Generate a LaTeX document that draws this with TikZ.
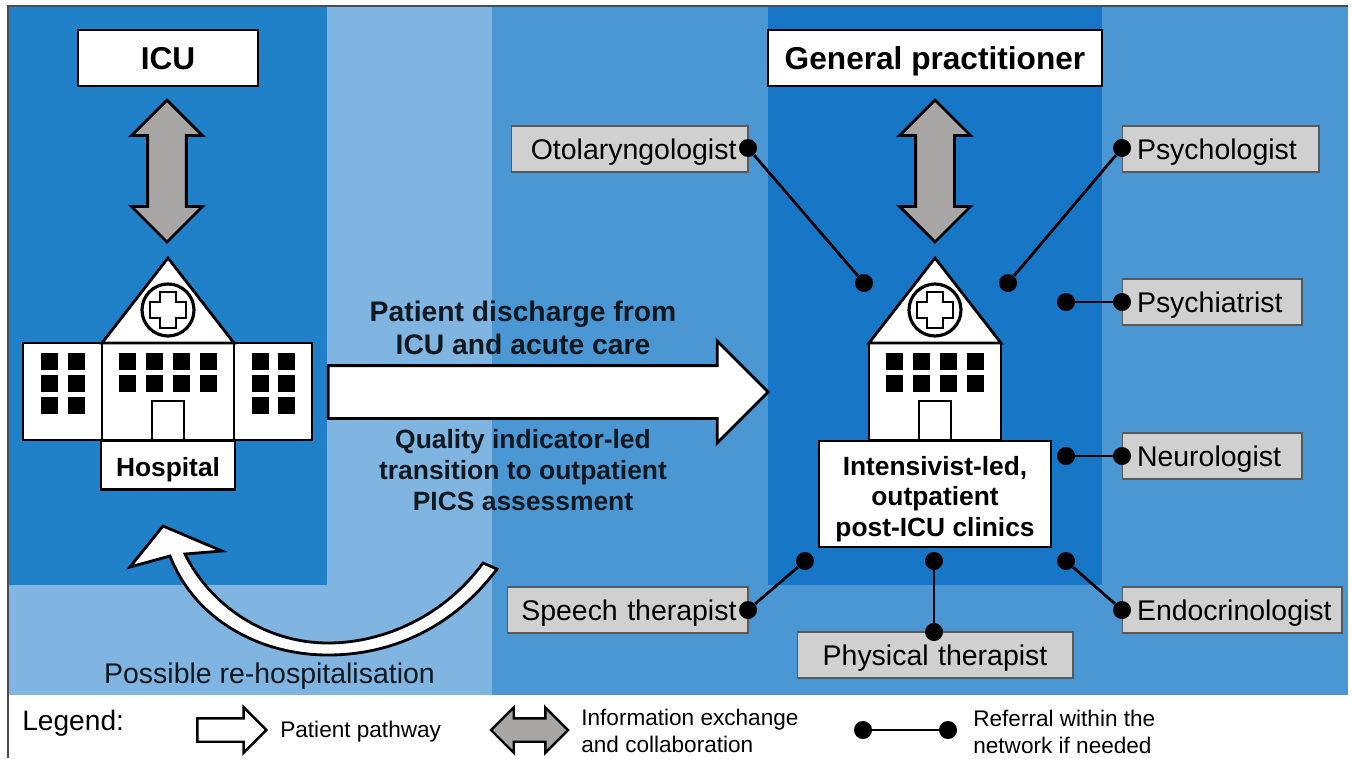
\documentclass[tikz,border=0pt]{standalone}
\usepackage{xcolor}
\usepackage{fontspec}
\setmainfont{Liberation Sans}
\usetikzlibrary{positioning,shapes.arrows}
\definecolor{bandlight}{HTML}{7FB5E0}
\definecolor{bandmid}{HTML}{4B97D3}
\definecolor{banddark}{HTML}{2080C8}
\definecolor{bandclinic}{HTML}{1777C6}
\definecolor{boxgrey}{HTML}{D0D0D0}
\definecolor{arrowgrey}{HTML}{A8A5A5}
\definecolor{inktext}{HTML}{101820}
\tikzset{
  whitebox/.style={draw=black, line width=1.6pt, fill=white, align=center, inner sep=0pt},
  titletext/.style={text height=0.56cm, text depth=0.1cm, font=\bfseries\fontsize{18}{22}\selectfont},
  greybox/.style={draw=black!65, line width=0.6pt, fill=boxgrey, inner xsep=0.23cm, inner ysep=0pt, minimum height=0.92cm, text height=0.5cm, text depth=0.1cm, font=\fontsize{16.2}{20}\selectfont},
  rightspec/.style={greybox, inner xsep=0.3cm, align=left},
  dot/.style={circle, fill=black, inner sep=0pt, minimum size=0.36cm},
  referral/.style={line width=1.6pt},
  infoarrow/.style={double arrow, draw=black, line width=1.6pt, fill=arrowgrey, double arrow head extend=0.32cm, minimum height=2.84cm, inner xsep=0pt, inner ysep=0.36cm},
  pathtext/.style={align=center, text=inktext},
  legendtext/.style={align=left, anchor=west, inner sep=0pt, font=\fontsize{12.85}{15.3}\selectfont}
}
\begin{document}
\begin{tikzpicture}[x=0.02cm, y=-0.02cm]
   \useasboundingbox (0,0) rectangle (1352,758);
   % Background bands (always before the buildings)
   \fill[bandlight] (8,6) rectangle (1348,695);
   \fill[bandmid] (492,6) rectangle (1348,695);
   \fill[banddark] (8,6) rectangle (327,585);
   \fill[bandclinic] (768,6) rectangle (1102,585);
   \draw[black!70, line width=0.6pt] (8,758) -- (8,6) -- (1348,6);
   % Side wings of the hospital
   \draw[fill=white, line width=1.6pt] (23,343) rectangle (312,440);
   \foreach \x in {41,68,252,278}
     \foreach \y in {353,375,397}
       \fill (\x,\y) rectangle ++(17,17);
   % Both buildings
   \foreach \dx in {0,767} {
     \begin{scope}[shift={(\dx,0)}]
       \draw[fill=white, line width=1.6pt] (102,343) rectangle (234,440);
       \draw[fill=white, line width=1.6pt, line join=miter] (102,343) -- (168,258) -- (234,343) -- cycle;
       \draw[fill=white, line width=1.8pt] (168,310) circle (26);
       \draw[fill=white, line width=1.3pt] (160,292) -- (176,292) -- (176,302) -- (186,302) -- (186,318) -- (176,318) -- (176,328) -- (160,328) -- (160,318) -- (150,318) -- (150,302) -- (160,302) -- cycle;
       \foreach \x in {119,146,173,200}
         \foreach \y in {353,375}
           \fill (\x,\y) rectangle ++(17,17);
       \draw[fill=white, line width=1.6pt] (152,401) rectangle (184,440);
     \end{scope}
   }
   % White boxes
   \node[whitebox, titletext, minimum width=3.6cm, minimum height=1.12cm] (icu) at (168,58) {ICU};
   \node[whitebox, titletext, minimum width=6.68cm, minimum height=1.12cm] (gp) at (935,58) {General practitioner};
   \node[whitebox, minimum width=2.68cm, minimum height=0.98cm, text height=0.56cm, text depth=0.1cm, font=\bfseries\fontsize{15}{18}\selectfont] (hospital) at (168,465) {Hospital};
   \node[whitebox, minimum width=4.64cm, minimum height=2.12cm, font=\bfseries\fontsize{15}{17.6}\selectfont] (clinic) at (935,494) {\rule{0pt}{16.7pt}Intensivist-led,\\ outpatient\\ post-ICU clinics};
   % Information arrows
   \node[infoarrow, rotate=90] (infoicu) at (167,171) {};
   \node[infoarrow, rotate=90] (infogp) at (935,171) {};
   % Patient pathway
   \node[single arrow, draw=black, line width=1.6pt, fill=white, single arrow head extend=0.49cm, minimum height=8.8cm, inner xsep=0pt, inner ysep=0.5cm] (discharge) at (535,392) {};
   \node[pathtext, font=\bfseries\fontsize{16.1}{18.7}\selectfont] (dischargetext) at (523,327.5) {Patient discharge from\\ ICU and acute care};
   \node[pathtext, font=\bfseries\fontsize{15.05}{17.9}\selectfont] (qualitytext) at (523,470) {Quality indicator-led\\ transition to outpatient\\ PICS assessment};
   \draw[fill=white, line width=1.6pt, line join=miter] (497,569) .. controls (455,625) and (395,655) .. (328,655) .. controls (260,655) and (195,620) .. (170,556) -- (130,567) -- (163,526) -- (222,551) -- (185,554) .. controls (210,605) and (265,643) .. (328,643) .. controls (385,643) and (445,615) .. (483,563) -- cycle;
   \node[text=inktext, font=\fontsize{16.2}{20}\selectfont] (rehosp) at (269.5,676) {Possible re-hospitalisation};
   % Specialists
   \node[greybox, text width=4.28cm, align=right] (oto) at (629.5,149) {Otolaryngologist};
   \node[rightspec, text width=3.34cm] (psychol) at (1220.5,149) {Psychologist};
   \node[rightspec, text width=3cm] (psychia) at (1212,302) {Psychiatrist};
   \node[rightspec, text width=3cm] (neuro) at (1212,456) {Neurologist};
   \node[rightspec, text width=3.8cm] (endo) at (1232,610) {Endocrinologist};
   \node[greybox, text width=4.36cm, align=right] (speech) at (627.5,610) {Speech therapist};
   \node[greybox, text width=5.06cm, align=center] (physio) at (935,655) {Physical therapist};
   % Referral dots and lines
   \foreach \name/\x/\y in {otoa/748/148, otob/864/283, psychola/1122/148, psycholb/1008/283, psychiaa/1122/302, psychiab/1066/302, neuroa/1122/456, neurob/1066/456, endoa/1122/610, endob/1066/561, speecha/748/610, speechb/805/561, physioa/934/632, physiob/934/561}
     \node[dot] (\name) at (\x,\y) {};
   \foreach \a/\b in {otoa/otob, psychola/psycholb, psychiaa/psychiab, neuroa/neurob, endoa/endob, speecha/speechb, physioa/physiob}
     \draw[referral] (\a) -- (\b);
   % Legend
   \node[anchor=west, inner sep=0pt, font=\fontsize{16}{20}\selectfont] (legend) at (22,723) {Legend:};
   \node[single arrow, draw=black, line width=1.4pt, fill=white, single arrow head extend=0.22cm, minimum height=1.38cm, inner xsep=0pt, inner ysep=0.21cm] (legpath) at (226,730) {};
   \node[legendtext] (legpathtext) at (280,732) {Patient pathway};
   \node[double arrow, draw=black, line width=1.4pt, fill=arrowgrey, double arrow head extend=0.22cm, minimum height=1.54cm, inner xsep=0pt, inner ysep=0.21cm] (leginfo) at (529.5,730) {};
   \node[legendtext] (leginfotext) at (581,730.5) {Information exchange\\ and collaboration};
   \node[dot] (lega) at (863,730) {};
   \node[dot] (legb) at (948,730) {};
   \draw[referral] (lega) -- (legb);
   \node[legendtext] (legreftext) at (973,731.5) {Referral within the\\ network if needed};
\end{tikzpicture}
\end{document}
